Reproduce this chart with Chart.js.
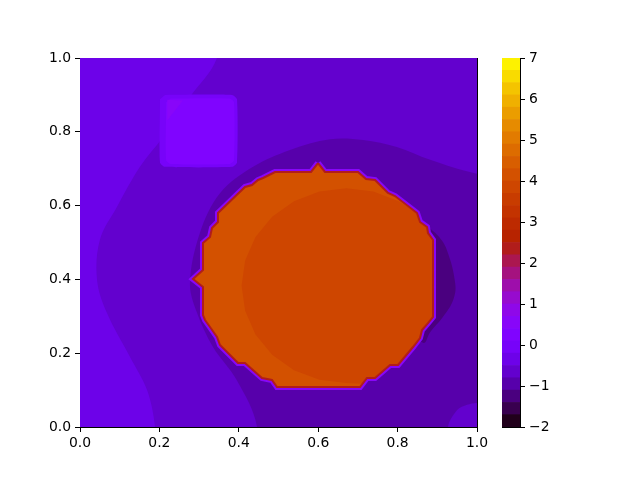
<!DOCTYPE html>
<html>
<head>
<meta charset="utf-8">
<script src="https://cdn.jsdelivr.net/npm/chart.js@4.4.1/dist/chart.umd.min.js"></script>
<style>
  body { margin: 0; background: #fff; }
  #wrap { position: relative; width: 640px; height: 480px; }
  canvas { position: absolute; left: 0; top: 0; }
</style>
</head>
<body>
<div id="wrap">
  <canvas id="field" width="640" height="480"></canvas>
  <canvas id="cbar" width="640" height="480"></canvas>
</div>
<script>
// contour levels of the filled plot and tick labels
const levels = [-2, -1.7, -1.4, -1.1, -0.8, -0.5, -0.2, 0.1, 0.4, 0.7, 1, 1.3, 1.6, 1.9, 2.2, 2.5,
                2.8, 3.1, 3.4, 3.7, 4, 4.3, 4.6, 4.9, 5.2, 5.5, 5.8, 6.1, 6.4, 6.7, 7];
const axisTicks = [0, 0.2, 0.4, 0.6, 0.8, 1];
const cbarTicks = [-2, -1, 0, 1, 2, 3, 4, 5, 6, 7];

// region outlines, [x, y] in data units
const background = [[-0.2, -0.2], [1.2, -0.2], [1.2, 1.2], [-0.2, 1.2]];
const leftBand = [[-0.2, 1.2], [0.38, 1.2], [0.345, 1.0], [0.277, 0.894], [0.209, 0.786], [0.151, 0.705],
                  [0.093, 0.596], [0.050, 0.507], [0.043, 0.398], [0.068, 0.309], [0.126, 0.190],
                  [0.169, 0.100], [0.189, 0.0], [0.2, -0.2], [-0.2, -0.2]];
const ring = [[0.446, -0.2], [0.446, 0.0], [0.395, 0.127], [0.335, 0.217], [0.295, 0.309], [0.277, 0.390],
              [0.302, 0.526], [0.353, 0.634], [0.436, 0.705], [0.529, 0.751], [0.630, 0.780],
              [0.713, 0.778], [0.798, 0.759], [0.882, 0.724], [1.0, 0.686], [1.2, 0.65], [1.2, -0.2]];
const crescent = [[0.877, 0.542], [0.902, 0.518], [0.924, 0.480], [0.945, 0.390], [0.940, 0.344],
                  [0.914, 0.298], [0.882, 0.257], [0.864, 0.228], [0.80, 0.30], [0.80, 0.48]];
const cornerBlob = [[0.927, -0.2], [0.927, 0.0], [0.950, 0.046], [0.975, 0.060], [1.0, 0.065],
                    [1.2, 0.065], [1.2, -0.2]];
const squareOuter = [[0.214, 0.900], [0.383, 0.900], [0.3955, 0.888], [0.3955, 0.717], [0.383, 0.705],
                     [0.214, 0.705], [0.2015, 0.717], [0.2015, 0.888]];
const squareInner = [[0.228, 0.890], [0.377, 0.890], [0.388, 0.880], [0.388, 0.723], [0.377, 0.713],
                     [0.228, 0.713], [0.217, 0.723], [0.217, 0.880]];
const squareTip = [[0.220, 0.887], [0.259, 0.885], [0.220, 0.831]];
const disc = [[0.5995, 0.7154], [0.6171, 0.6911], [0.7003, 0.6911], [0.7204, 0.6721], [0.7431, 0.6694],
              [0.7758, 0.6341], [0.7935, 0.6260], [0.8489, 0.5799], [0.8564, 0.5556], [0.8741, 0.5420],
              [0.8766, 0.5257], [0.8892, 0.5068], [0.8892, 0.2981], [0.8766, 0.2818], [0.8615, 0.2629],
              [0.8564, 0.2412], [0.8388, 0.2168], [0.8010, 0.1680], [0.7809, 0.1680], [0.7431, 0.1328],
              [0.7229, 0.1328], [0.7053, 0.1084], [0.4962, 0.1084], [0.4836, 0.1274], [0.4584, 0.1328],
              [0.4156, 0.1734], [0.3980, 0.1734], [0.3526, 0.2222], [0.3451, 0.2439], [0.3275, 0.2710],
              [0.3149, 0.2900], [0.3098, 0.3035], [0.3098, 0.3794], [0.2846, 0.4011], [0.3098, 0.4255],
              [0.3098, 0.4986], [0.3275, 0.5149], [0.3325, 0.5393], [0.3476, 0.5556], [0.3476, 0.5799],
              [0.4156, 0.6504], [0.4332, 0.6558], [0.4484, 0.6694], [0.4610, 0.6748], [0.4912, 0.6911],
              [0.5819, 0.6911], [0.5995, 0.7154]];
const discCore = [[0.803, 0.612], [0.739, 0.638], [0.671, 0.647], [0.603, 0.638], [0.539, 0.612],
                  [0.484, 0.570], [0.442, 0.515], [0.416, 0.451], [0.407, 0.383], [0.416, 0.315],
                  [0.442, 0.251], [0.484, 0.196], [0.539, 0.154], [0.603, 0.128], [0.671, 0.119],
                  [0.713, 0.117], [0.7229, 0.1328], [0.7431, 0.1328], [0.7809, 0.1680], [0.8010, 0.1680],
                  [0.8388, 0.2168], [0.8564, 0.2412], [0.8615, 0.2629], [0.8766, 0.2818], [0.8892, 0.2981],
                  [0.8892, 0.5068], [0.8766, 0.5257], [0.8741, 0.5420], [0.8564, 0.5556], [0.8489, 0.5799]];

// gnuplot colormap, sampled at the middle of a band
function bandColor(k) {
    const mid = (levels[k] + levels[k + 1]) / 2;
    const t = (mid - levels[0]) / (levels[levels.length - 1] - levels[0]);
    const clip = v => Math.round(255 * Math.min(1, Math.max(0, v)));
    return 'rgb(' + clip(Math.sqrt(t)) + ',' + clip(t * t * t) + ',' + clip(Math.sin(2 * Math.PI * t)) + ')';
}

const none = 'rgba(0,0,0,0)';
// painter's order, bottom first
const regions = [
    {pts: background, band: 4, tension: 0},
    {pts: leftBand, band: 5, tension: 0.35},
    {pts: ring, band: 3, tension: 0.35},
    {pts: crescent, band: 2, tension: 0.4},
    {pts: cornerBlob, band: 4, tension: 0.3},
    {pts: squareOuter, band: 6, tension: 0.2},
    {pts: squareInner, band: 7, tension: 0.2},
    {pts: squareTip, band: 8, tension: 0},
    {pts: disc, band: 8, tension: 0, fill: false, edge: bandColor(8), edgeWidth: 6},
    {pts: disc, band: 20, tension: 0},
    {pts: discCore, band: 19, tension: 0},
    {pts: disc, band: 14, tension: 0, fill: false, edge: bandColor(14), edgeWidth: 2}
];

const fieldSets = regions.map((r, i) => ({
    data: r.pts.map(p => ({x: p[0], y: p[1]})),
    showLine: true,
    fill: r.fill === false ? false : 'shape',
    backgroundColor: r.fill === false ? none : bandColor(r.band),
    borderColor: r.edge || none,
    borderWidth: r.edgeWidth || 0,
    tension: r.tension,
    pointRadius: 0,
    pointHoverRadius: 0,
    order: regions.length - i
}));

Chart.defaults.font.family = 'DejaVu Sans';
Chart.defaults.font.size = 13.9;
Chart.defaults.color = '#000';

const tickFont = {family: 'DejaVu Sans', size: 13.9};
const setTicks = list => scale => { scale.ticks = list.map(v => ({value: v})); };
const frame = {ticks: {display: false}, grid: {display: false}, border: {color: '#000', width: 1}};

new Chart(document.getElementById('field'), {
    type: 'scatter',
    data: {datasets: fieldSets},
    options: {
        responsive: false,
        animation: false,
        events: [],
        layout: {padding: {left: 0, top: 58, right: 163, bottom: 0}},
        elements: {line: {capBezierPoints: false}},
        plugins: {
            legend: {display: false},
            tooltip: {enabled: false},
            filler: {drawTime: 'beforeDatasetDraw', propagate: false}
        },
        scales: {
            x: {
                type: 'linear', position: 'bottom', min: 0, max: 1,
                afterBuildTicks: setTicks(axisTicks),
                afterFit: s => { s.height = 53; },
                ticks: {font: tickFont, color: '#000', padding: 3, maxRotation: 0, autoSkip: false,
                        callback: v => Number(v).toFixed(1)},
                grid: {drawOnChartArea: false, tickLength: 5, tickColor: '#000', tickWidth: 1},
                border: {color: '#000', width: 1}
            },
            y: {
                type: 'linear', position: 'left', min: 0, max: 1,
                afterBuildTicks: setTicks(axisTicks),
                afterFit: s => { s.width = 80; },
                ticks: {font: tickFont, color: '#000', padding: 4, autoSkip: false,
                        callback: v => Number(v).toFixed(1)},
                grid: {drawOnChartArea: false, tickLength: 5, tickColor: '#000', tickWidth: 1},
                border: {color: '#000', width: 1}
            },
            x2: Object.assign({type: 'linear', position: 'top', min: 0, max: 1,
                               afterFit: s => { s.height = 0; }}, frame),
            y2: Object.assign({type: 'linear', position: 'right', min: 0, max: 1,
                               afterFit: s => { s.width = 0; }}, frame)
        }
    }
});

// colour bar: one floating bar per band
const barSets = levels.slice(0, -1).map((lo, k) => ({
    data: [[lo, levels[k + 1]]],
    backgroundColor: bandColor(k),
    borderWidth: 0,
    grouped: false,
    barPercentage: 1,
    categoryPercentage: 1
}));

new Chart(document.getElementById('cbar'), {
    type: 'bar',
    data: {labels: [''], datasets: barSets},
    options: {
        responsive: false,
        animation: false,
        events: [],
        layout: {padding: {left: 502, top: 58, right: 80, bottom: 53}},
        plugins: {legend: {display: false}, tooltip: {enabled: false}},
        scales: {
            x: Object.assign({position: 'bottom', afterFit: s => { s.height = 0; }}, frame),
            x2: Object.assign({type: 'category', position: 'top', afterFit: s => { s.height = 0; }}, frame),
            y: {
                type: 'linear', position: 'right', min: -2, max: 7,
                afterBuildTicks: setTicks(cbarTicks),
                afterFit: s => { s.width = 40; },
                ticks: {font: tickFont, color: '#000', padding: 4, autoSkip: false,
                        callback: v => v < 0 ? '\u2212' + Math.abs(v) : String(v)},
                grid: {drawOnChartArea: false, tickLength: 5, tickColor: '#000', tickWidth: 1},
                border: {color: '#000', width: 1}
            },
            y2: Object.assign({type: 'linear', position: 'left', min: -2, max: 7,
                               afterFit: s => { s.width = 0; }}, frame)
        }
    }
});
</script>
</body>
</html>
